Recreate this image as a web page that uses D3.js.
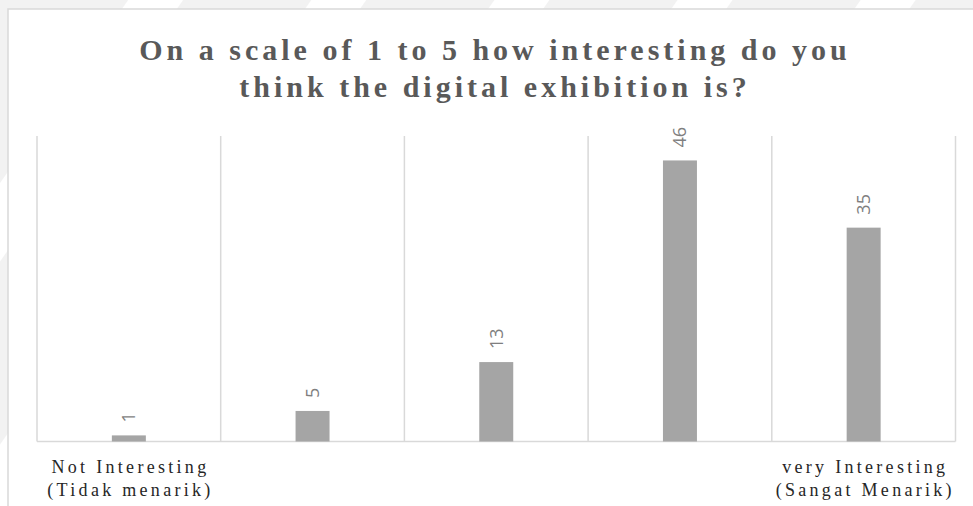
<!DOCTYPE html>
<html>
<head>
<meta charset="utf-8">
<script src="https://cdn.jsdelivr.net/npm/d3@7"></script>
<style>
  html, body { margin: 0; padding: 0; background: #ffffff; }
  svg { display: block; }
</style>
</head>
<body>
<svg id="chart" width="973" height="506"></svg>
<script>
// Survey answers: how interesting the digital exhibition is, on a 1–5 scale
const categories = ["1", "2", "3", "4", "5"];
const values = [1, 5, 13, 46, 35];
const categoryLabels = [
  ["Not Interesting", "(Tidak menarik)"],
  [],
  [],
  [],
  ["very Interesting", "(Sangat Menarik)"]
];
const titleLines = [
  "On a scale of 1 to 5 how interesting do you",
  "think the digital exhibition is?"
];
const yDomain = [0, 50];

const W = 973, H = 506;
const svg = d3.select("#chart");

// faint diagonal backdrop behind the chart frame
const defs = svg.append("defs");
const pat = defs.append("pattern")
  .attr("id", "stripes")
  .attr("patternUnits", "userSpaceOnUse")
  .attr("width", 150).attr("height", 150)
  .attr("patternTransform", "rotate(35)");
pat.append("rect").attr("width", 150).attr("height", 150).attr("fill", "#ffffff");
pat.append("rect").attr("x", 0).attr("width", 105).attr("height", 150).attr("fill", "#f2f2f2");
svg.append("rect").attr("width", W).attr("height", H).attr("fill", "url(#stripes)");

// chart frame (white area with light border on the top and left)
const frame = { x: 8, y: 9 };
svg.append("rect")
  .attr("x", frame.x).attr("y", frame.y)
  .attr("width", W - frame.x + 5).attr("height", H - frame.y + 5)
  .attr("fill", "#ffffff")
  .attr("stroke", "#d9d9d9")
  .attr("stroke-width", 1.5);

// title
const titleSpacing = 4;
const title = svg.append("text")
  .attr("text-anchor", "middle")
  .attr("font-family", "'Liberation Serif', 'Times New Roman', serif")
  .attr("font-weight", "bold")
  .attr("font-size", 30)
  .attr("letter-spacing", titleSpacing)
  .attr("fill", "#595959");
title.selectAll("tspan")
  .data(titleLines)
  .join("tspan")
  .attr("x", 493 + titleSpacing / 2)
  .attr("y", (d, i) => 60 + i * 37)
  .text(d => d);

// scales
const x = d3.scaleBand().domain(categories).range([37, 955.5]).padding(0);
const y = d3.scaleLinear().domain(yDomain).range([441.5, 136]);
const barW = x.bandwidth() * 0.185;

// vertical category separators
const edges = categories.map(c => x(c)).concat([x.range()[1]]);
svg.append("g")
  .selectAll("line")
  .data(edges)
  .join("line")
  .attr("x1", d => d).attr("x2", d => d)
  .attr("y1", y(yDomain[1])).attr("y2", y(0))
  .attr("stroke", "#d9d9d9")
  .attr("stroke-width", 1.5);

// baseline
svg.append("line")
  .attr("x1", x.range()[0]).attr("x2", x.range()[1])
  .attr("y1", y(0)).attr("y2", y(0))
  .attr("stroke", "#d9d9d9")
  .attr("stroke-width", 1.5);

// bars
const data = categories.map((c, i) => ({ c, v: values[i], labels: categoryLabels[i] }));
svg.append("g")
  .selectAll("rect")
  .data(data)
  .join("rect")
  .attr("x", d => x(d.c) + (x.bandwidth() - barW) / 2)
  .attr("y", d => y(d.v))
  .attr("width", barW)
  .attr("height", d => y(0) - y(d.v))
  .attr("fill", "#a5a5a5");

// value labels, rotated to read upward
svg.append("g")
  .selectAll("text")
  .data(data)
  .join("text")
  .attr("transform", d => `translate(${x(d.c) + x.bandwidth() / 2},${y(d.v) - 13}) rotate(-90)`)
  .attr("dy", "0.36em")
  .attr("text-anchor", "start")
  .attr("font-family", "'Open Sans', 'Liberation Sans', sans-serif")
  .attr("font-size", 18)
  .attr("fill", "#7f7f7f")
  .text(d => d.v);

// category labels under the first and last bars
const catSpacing = 3.3;
const catG = svg.append("g")
  .attr("font-family", "'Liberation Serif', 'Times New Roman', serif")
  .attr("font-size", 18)
  .attr("letter-spacing", catSpacing)
  .attr("fill", "#262626")
  .attr("text-anchor", "middle");
data.forEach(d => {
  d.labels.forEach((line, j) => {
    catG.append("text")
      .attr("x", x(d.c) + x.bandwidth() / 2 + catSpacing / 2)
      .attr("y", 473 + j * 23)
      .text(line);
  });
});
</script>
</body>
</html>
